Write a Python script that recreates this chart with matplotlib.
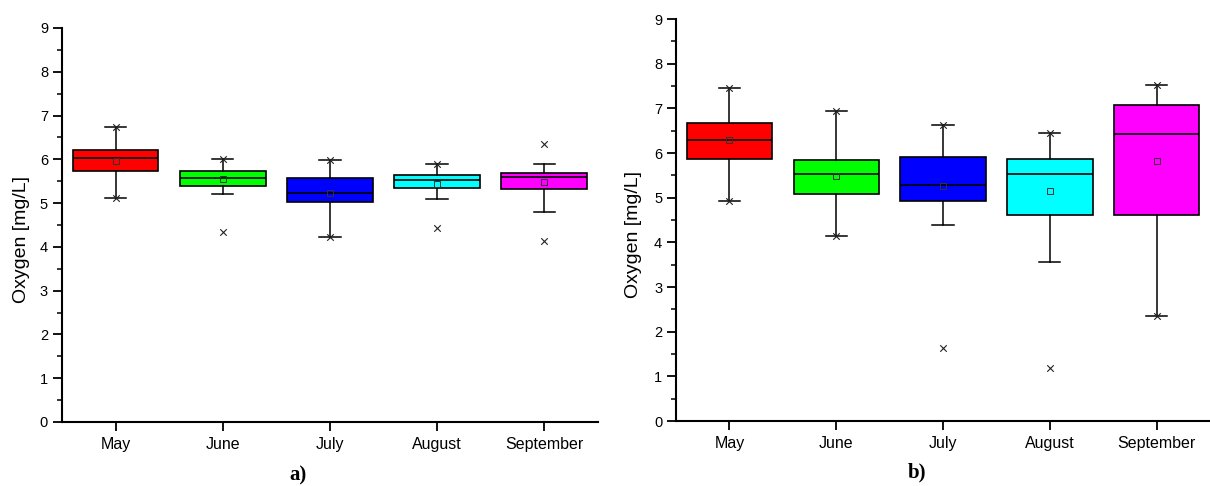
import numpy as np
import matplotlib.pyplot as plt

plt.rcParams['font.family'] = ['Liberation Sans', 'DejaVu Sans']

months = ['May', 'June', 'July', 'August', 'September']
colors = ['#FF0000', '#00FF00', '#0000FF', '#00FFFF', '#FF00FF']

# panel a)
a_q1 = [5.74, 5.38, 5.02, 5.34, 5.32]
a_med = [6.04, 5.58, 5.24, 5.52, 5.60]
a_q3 = [6.21, 5.73, 5.58, 5.64, 5.69]
a_mean = [5.96, 5.56, 5.24, 5.44, 5.49]
a_whislo = [5.12, 5.20, 4.22, 5.10, 4.80]
a_whishi = [6.74, 6.01, 5.99, 5.89, 5.89]
a_min = [5.12, 4.35, 4.22, 4.42, 4.13]
a_max = [6.74, 6.01, 5.99, 5.89, 6.35]

# panel b)
b_q1 = [5.87, 5.09, 4.92, 4.61, 4.61]
b_med = [6.30, 5.54, 5.29, 5.54, 6.43]
b_q3 = [6.68, 5.84, 5.92, 5.86, 7.08]
b_mean = [6.29, 5.48, 5.26, 5.15, 5.82]
b_whislo = [4.92, 4.14, 4.38, 3.56, 2.36]
b_whishi = [7.46, 6.94, 6.62, 6.46, 7.52]
b_min = [4.92, 4.14, 1.64, 1.18, 2.36]
b_max = [7.46, 6.94, 6.62, 6.46, 7.52]


def draw(ax, q1, med, q3, mean, wlo, whi, mins, maxs, lab_x):
    stats = []
    for i in range(len(months)):
        stats.append(dict(label=months[i], q1=q1[i], med=med[i], q3=q3[i],
                          mean=mean[i], whislo=wlo[i], whishi=whi[i], fliers=[]))
    pos = np.arange(1, len(months) + 1)
    bp = ax.bxp(stats, positions=pos, widths=0.8, patch_artist=True,
                showmeans=True, showfliers=False,
                boxprops=dict(edgecolor='black', linewidth=1.2),
                medianprops=dict(color='black', linewidth=1.2),
                whiskerprops=dict(color='black', linewidth=1.1),
                capprops=dict(color='black', linewidth=1.1),
                capwidths=0.2,
                meanprops=dict(marker='s', markersize=4, markerfacecolor='none',
                               markeredgecolor='#333333', markeredgewidth=0.7))
    for patch, c in zip(bp['boxes'], colors):
        patch.set_facecolor(c)
    # min / max markers
    ax.scatter(pos, mins, marker='x', s=22, color='#222222', linewidths=0.8, zorder=5)
    ax.scatter(pos, maxs, marker='x', s=22, color='#222222', linewidths=0.8, zorder=5)

    ax.set_xlim(0.5, 5.5)
    ax.set_ylim(0, 9)
    ax.set_yticks(range(10))
    ax.set_yticks(np.arange(0.5, 9, 1), minor=True)
    ax.set_xticks(pos)
    ax.set_xticklabels(months)
    ax.spines['top'].set_visible(False)
    ax.spines['right'].set_visible(False)
    ax.spines['left'].set_linewidth(1.5)
    ax.spines['bottom'].set_linewidth(1.5)
    ax.tick_params(axis='both', which='major', direction='out', length=6.5, width=1.3)
    ax.tick_params(axis='x', labelsize=11.5, pad=4)
    ax.tick_params(axis='y', labelsize=10.5, pad=3.5)
    ax.tick_params(axis='y', which='minor', direction='out', length=3.5, width=1.1)
    ax.set_ylabel('Oxygen [mg/L]', fontsize=14)
    ax.yaxis.set_label_coords(lab_x, 0.464)


fig = plt.figure(figsize=(12.1, 4.86), dpi=100)
ax1 = fig.add_axes([0.0512, 0.1317, 0.443, 0.8107])
ax2 = fig.add_axes([0.5587, 0.1337, 0.4413, 0.827])

draw(ax1, a_q1, a_med, a_q3, a_mean, a_whislo, a_whishi, a_min, a_max, -0.060)
draw(ax2, b_q1, b_med, b_q3, b_mean, b_whislo, b_whishi, b_min, b_max, -0.063)

fig.text(298 / 1210, 1 - 465 / 486, 'a)', ha='center', va='top', fontsize=15,
         fontweight='bold', family='Liberation Serif')
fig.text(917 / 1210, 1 - 462 / 486, 'b)', ha='center', va='top', fontsize=15,
         fontweight='bold', family='Liberation Serif')

fig.savefig('out.png', dpi=100)
